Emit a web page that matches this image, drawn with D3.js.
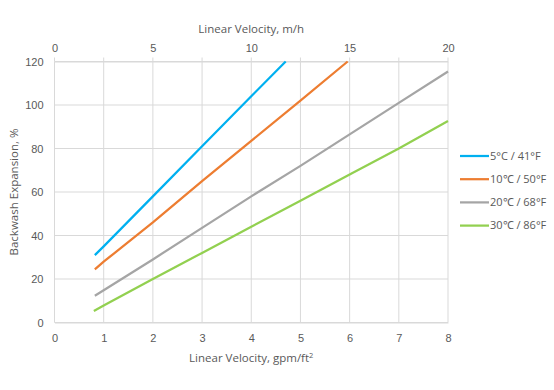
<!DOCTYPE html>
<html>
<head>
<meta charset="utf-8">
<script src="https://cdn.jsdelivr.net/npm/d3@7"></script>
<style>
  body { margin: 0; background: #fff; }
  svg { font-family: "Open Sans", "Liberation Sans", sans-serif; }
  .axis text { fill: #595959; font-size: 11px; }
  .title { fill: #595959; font-size: 11.5px; }
</style>
</head>
<body>
<svg id="chart"></svg>
<script>
// gpm/ft2 values and backwash expansion (%)
const seriesNames = ["5°C / 41°F", "10℃ / 50°F", "20℃ / 68°F", "30℃ / 86°F"];
const seriesColors = ["#00B0F0", "#ED7D31", "#A5A5A5", "#92D050"];

const blueX = [0.82, 1, 2, 3, 4, 4.7];
const blueY = [31, 35, 58, 81, 104, 120];
const orangeX = [0.82, 1, 1.2, 2, 3, 4, 5, 5.96];
const orangeY = [24.4, 28, 31.6, 46, 65, 83.5, 102, 120];
const grayX = [0.82, 1, 2, 3, 4, 5, 6, 7, 8];
const grayY = [12.3, 14.8, 29, 43.5, 58, 72, 86.5, 101, 115.4];
const greenX = [0.8, 1, 2, 3, 4, 5, 6, 7, 8];
const greenY = [5.3, 7.8, 20, 32, 44, 56, 68, 80, 92.6];

const bottomTicks = [0, 1, 2, 3, 4, 5, 6, 7, 8];
const leftTicks = [0, 20, 40, 60, 80, 100, 120];
const topTicks = [0, 5, 10, 15, 20];
const topMinorTicks = [0, 2.5, 5, 7.5, 10, 12.5, 15, 17.5, 20];

const width = 554, height = 390;
const margin = { top: 61.5, right: 106, bottom: 67.5, left: 54.5 };

const svg = d3.select("#chart")
    .attr("width", width)
    .attr("height", height)
    .attr("viewBox", [0, 0, width, height]);

const x = d3.scaleLinear().domain([0, 8]).range([margin.left, width - margin.right]);
const xTop = d3.scaleLinear().domain([0, 20]).range([margin.left, width - margin.right]);
const y = d3.scaleLinear().domain([0, 120]).range([height - margin.bottom, margin.top]);

// grid
svg.append("g")
  .selectAll("line")
  .data(bottomTicks)
  .join("line")
    .attr("x1", d => x(d)).attr("x2", d => x(d))
    .attr("y1", y(0)).attr("y2", y(120))
    .attr("stroke", "#D9D9D9");

svg.append("g")
  .selectAll("line")
  .data(leftTicks)
  .join("line")
    .attr("x1", x(0)).attr("x2", x(8))
    .attr("y1", d => y(d)).attr("y2", d => y(d))
    .attr("stroke", "#D9D9D9");

// bottom axis
svg.append("g")
    .attr("class", "axis")
    .attr("transform", `translate(0,${y(0)})`)
    .call(d3.axisBottom(x).tickValues(bottomTicks).tickSize(0).tickPadding(12))
    .call(g => g.select(".domain").attr("stroke", "#D9D9D9"));

// left axis
svg.append("g")
    .attr("class", "axis")
    .attr("transform", `translate(${x(0)},0)`)
    .call(d3.axisLeft(y).tickValues(leftTicks).tickSize(0).tickPadding(11))
    .call(g => g.select(".domain").remove());

// top axis (m/h)
svg.append("g")
    .attr("class", "axis")
    .attr("transform", `translate(0,${y(120)})`)
    .call(d3.axisTop(xTop).tickValues(topTicks).tickSize(0).tickPadding(10))
    .call(g => g.select(".domain").attr("stroke", "#D9D9D9"));

svg.append("g")
  .selectAll("line")
  .data(topMinorTicks)
  .join("line")
    .attr("x1", d => xTop(d)).attr("x2", d => xTop(d))
    .attr("y1", y(120)).attr("y2", y(120) - 4)
    .attr("stroke", "#D9D9D9");

// titles
svg.append("text")
    .attr("class", "title")
    .attr("x", x(4))
    .attr("y", 33)
    .attr("text-anchor", "middle")
    .text("Linear Velocity, m/h");

const bt = svg.append("text")
    .attr("class", "title")
    .attr("x", x(4))
    .attr("y", 362)
    .attr("text-anchor", "middle");
bt.append("tspan").text("Linear Velocity, gpm/ft");
bt.append("tspan").attr("font-size", "7.5px").attr("dy", -4).text("2");

svg.append("text")
    .attr("class", "title")
    .attr("transform", `translate(18,${(y(0) + y(120)) / 2}) rotate(-90)`)
    .attr("text-anchor", "middle")
    .text("Backwash Expansion, %");

// lines
const series = [
  { xs: blueX, ys: blueY },
  { xs: orangeX, ys: orangeY },
  { xs: grayX, ys: grayY },
  { xs: greenX, ys: greenY }
].map((s, i) => ({
  name: seriesNames[i],
  color: seriesColors[i],
  values: s.xs.map((v, j) => [v, s.ys[j]])
}));

const line = d3.line()
    .x(d => x(d[0]))
    .y(d => y(d[1]));

svg.append("g")
  .selectAll("path")
  .data(series)
  .join("path")
    .attr("d", d => line(d.values))
    .attr("fill", "none")
    .attr("stroke", d => d.color)
    .attr("stroke-width", 2.25)
    .attr("stroke-linejoin", "round");

// legend
const legend = svg.append("g")
  .selectAll("g")
  .data(series)
  .join("g")
    .attr("transform", (d, i) => `translate(460,${156 + i * 23.2})`);

legend.append("line")
    .attr("x1", 0).attr("x2", 29)
    .attr("stroke", d => d.color)
    .attr("stroke-width", 2.25);

legend.append("text")
    .attr("x", 30)
    .attr("dy", "0.35em")
    .attr("fill", "#595959")
    .attr("font-size", "11px")
    .text(d => d.name);
</script>
</body>
</html>
